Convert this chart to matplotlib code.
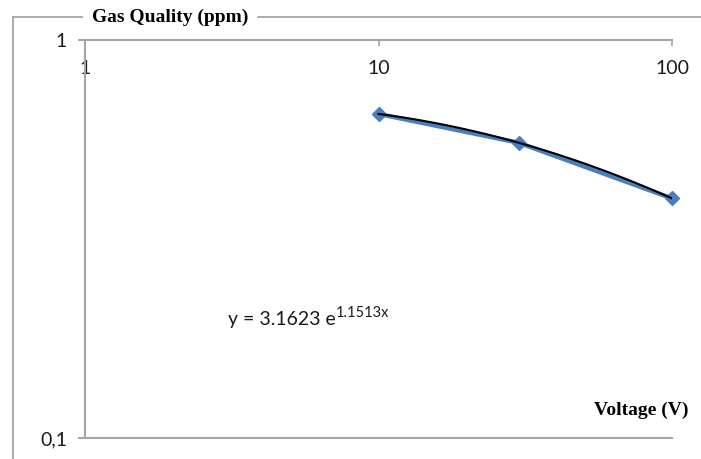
import numpy as np
import matplotlib.pyplot as plt
from matplotlib.lines import Line2D
from matplotlib.ticker import FixedLocator, FuncFormatter, NullLocator

# data
voltage = [10, 30, 100]
gas_quality = [0.652, 0.552, 0.400]

x_ticks = [1, 10, 100]
y_ticks = [0.1, 1]

title_text = 'Gas Quality (ppm)'
xlabel_text = 'Voltage (V)'
eq_main = 'y = 3.1623 e'
eq_sup = '1.1513x'

grey = '#a6a6a6'
blue = '#4a7ebf'
tick_font = 'Lato'
label_font = 'Liberation Serif'

fig = plt.figure(figsize=(7.01, 4.59), dpi=100)
ax = fig.add_axes([85 / 701, 1 - 438 / 459, (672 - 85) / 701, (438 - 40) / 459])

ax.set_xscale('log')
ax.set_yscale('log')
ax.set_xlim(1, 100)
ax.set_ylim(0.1, 1)

# data series
ax.plot(voltage, gas_quality, color=blue, lw=3.2, marker='D', markersize=7.5,
        markerfacecolor=blue, markeredgecolor=blue, zorder=2, clip_on=False,
        solid_joinstyle='round')

# trendline fitted to the series (2nd order in log-log space)
coef = np.polyfit(np.log10(voltage), np.log10(gas_quality), 2)
xt = np.logspace(np.log10(voltage[0]), np.log10(voltage[-1]), 100)
ax.plot(xt, 10 ** np.polyval(coef, np.log10(xt)), color='black', lw=1.5,
        zorder=3)

# spines
ax.spines['right'].set_visible(False)
for side in ['left', 'top', 'bottom']:
    ax.spines[side].set_color(grey)
    ax.spines[side].set_linewidth(1.5)

ax.xaxis.set_major_locator(FixedLocator(x_ticks))
ax.xaxis.set_minor_locator(NullLocator())
ax.yaxis.set_major_locator(FixedLocator(y_ticks))
ax.yaxis.set_minor_locator(NullLocator())
fmt = FuncFormatter(lambda v, p: ('%g' % v).replace('.', ','))
ax.xaxis.set_major_formatter(fmt)
ax.yaxis.set_major_formatter(fmt)

ax.tick_params(axis='x', top=True, labeltop=True, bottom=False,
               labelbottom=False, direction='in', length=4, width=1.2,
               color=grey, pad=-27, labelsize=14)
ax.tick_params(axis='y', left=True, direction='out', length=5, width=1.5,
               color=grey, pad=8, labelsize=14)
for lab in ax.get_xticklabels() + ax.get_yticklabels():
    lab.set_fontfamily(tick_font)
    lab.set_color('#1a1a1a')

# equation text
t = ax.text(3.07, 0.198, eq_main, fontsize=14, family=tick_font,
            color='#1a1a1a', ha='left', va='center')
ax.annotate(eq_sup, xy=(1.0, 0.5), xycoords=t, fontsize=10.5,
            family=tick_font, color='#1a1a1a', ha='left', va='bottom')

# outer frame with title breaking the top line
fig.add_artist(Line2D([13 / 701, 13 / 701], [0, 1 - 17 / 459],
                      color=grey, lw=1.3))
fig.add_artist(Line2D([13 / 701, 82 / 701], [1 - 17 / 459, 1 - 17 / 459],
                      color=grey, lw=1.3))
fig.add_artist(Line2D([258 / 701, 1], [1 - 17 / 459, 1 - 17 / 459],
                      color=grey, lw=1.3))
fig.text(170 / 701, 1 - 17 / 459, title_text, fontsize=14, fontweight='bold',
         family=label_font, ha='center', va='center')
fig.text(688 / 701, 1 - 410 / 459, xlabel_text, fontsize=14,
         fontweight='bold', family=label_font, ha='right', va='center')

fig.savefig('out.png', dpi=100)
